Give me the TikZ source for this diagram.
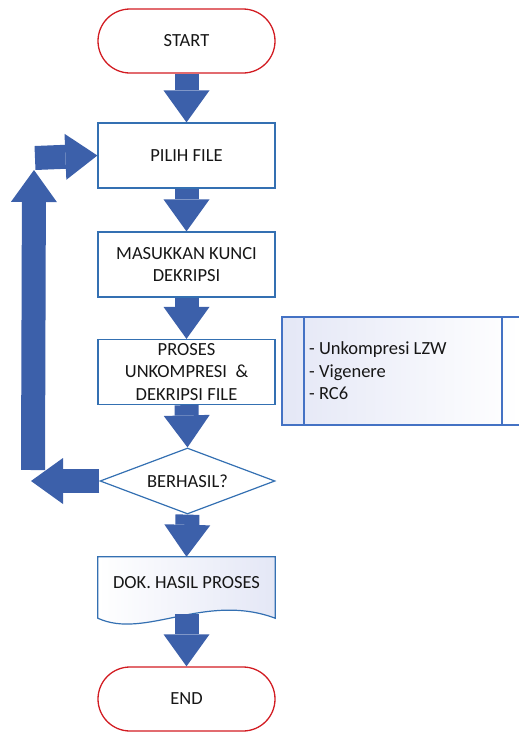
\documentclass[tikz,border=0pt]{standalone}
\usepackage{fontspec}
\setmainfont{Carlito}
\usetikzlibrary{shapes.geometric,arrows.meta,calc}
\definecolor{arrowblue}{RGB}{60,96,170}
\definecolor{boxblue}{RGB}{52,112,178}
\definecolor{sideblue}{RGB}{68,114,196}
\definecolor{termred}{RGB}{210,28,34}
\definecolor{txt}{RGB}{22,22,22}
\definecolor{lav}{RGB}{228,231,246}
\tikzset{
  base/.style={font=\fontsize{18.5}{22.5}\selectfont, text=txt, align=center, inner sep=0pt},
  term/.style={base, draw=termred, line width=1.3pt, rectangle, rounded corners=32pt, minimum width=177pt, minimum height=64pt},
  procbox/.style={base, draw=boxblue, line width=1.2pt, rectangle, minimum width=177pt, minimum height=65pt},
  decbox/.style={base, draw=boxblue, line width=1.2pt, diamond, aspect=2.65, minimum width=175pt, minimum height=66pt},
  docbox/.style={base, rectangle, minimum width=177pt, minimum height=61pt},
  blockarrow/.style={draw=arrowblue, line width=24pt, -{Triangle[length={32pt 0 0}, width={46pt 0 0}, line width=0pt]}},
}
\begin{document}
\begin{tikzpicture}[x=1pt,y=-1pt]
\useasboundingbox (0,0) rectangle (519,732);
% side box
\fill[left color=lav, right color=white] (282,317) rectangle (519,425);
\draw[sideblue, line width=1.2pt] (519,317) -- (282,317) -- (282,425) -- (519,425);
\draw[sideblue, line width=1.2pt] (304,317) -- (304,425);
\draw[sideblue, line width=1.2pt] (502,317) -- (502,425);
\node[base, align=left, anchor=west] (side) at (309,371) {- Unkompresi LZW\\- Vigenere\\- RC6};

% nodes
\node[term] (start) at (186.5,41) {START};
\node[procbox] (pilih) at (186.5,155.5) {PILIH FILE};
\node[procbox] (masuk) at (186.5,264.5) {MASUKKAN KUNCI\\DEKRIPSI};
\node[procbox] (proses) at (186.5,372) {PROSES\\UNKOMPRESI\ \ \&\\DEKRIPSI FILE};
\node[decbox] (dec) at (187.5,481) {BERHASIL?};
\node[docbox] (dok) at (186.5,587.5) {};
\draw[boxblue, line width=1.2pt, left color=white, right color=lav]
  (dok.north west) -- (dok.north east) -- (dok.south east)
  .. controls (205,592) and (145,640) .. (dok.south west) -- cycle;
\node[base] (doktext) at (186.5,583) {DOK. HASIL PROSES};
\node[term] (end) at (186.5,699) {END};

% loop coordinates
\coordinate (lefttip) at (31,481);
\coordinate (upstart) at (33,470);
\coordinate (uptip) at (34,170);
\coordinate (rstart) at (35,158);

% connectors
\draw[blockarrow] (start.south) -- (pilih.north);
\draw[blockarrow] (pilih.south) -- (masuk.north);
\draw[blockarrow] (masuk.south) -- (proses.north);
\draw[blockarrow] (proses.south) -- (dec.north);
\draw[blockarrow] (dec.south) -- (dok.north);
\draw[blockarrow] ($(dok.south)+(0,-4)$) -- (end.north);
\draw[blockarrow] (dec.west) -- (lefttip);
\draw[blockarrow] (upstart) -- (uptip);
\draw[blockarrow] (rstart) -- (pilih.west);
\end{tikzpicture}
\end{document}
